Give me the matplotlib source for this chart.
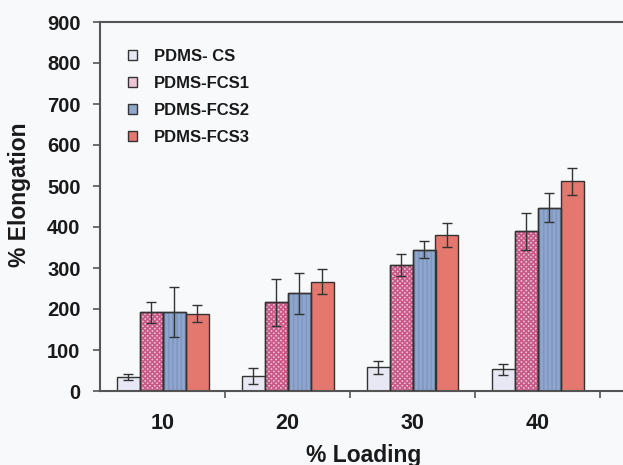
import matplotlib
matplotlib.use("Agg")
import matplotlib.pyplot as plt
import numpy as np
from matplotlib.patches import Patch

plt.rcParams['font.family'] = ['Liberation Sans', 'DejaVu Sans']
plt.rcParams['hatch.linewidth'] = 1.2

categories = ["10", "20", "30", "40"]
series = ["PDMS- CS", "PDMS-FCS1", "PDMS-FCS2", "PDMS-FCS3"]
cs_vals = [35, 37, 58, 53]
cs_err = [7, 19, 16, 14]
fcs1_vals = [192, 216, 307, 390]
fcs1_err = [25, 57, 26, 45]
fcs2_vals = [192, 238, 345, 447]
fcs2_err = [61, 49, 21, 35]
fcs3_vals = [189, 267, 380, 512]
fcs3_err = [20, 31, 29, 33]

values = [cs_vals, fcs1_vals, fcs2_vals, fcs3_vals]
errors = [cs_err, fcs1_err, fcs2_err, fcs3_err]
faces = ['#e8e8f4', '#f0c4d6', '#8fa6ce', '#e4776e']
hatches = [None, 'xxxxxxx', '||||', None]
hatch_cols = ['#333333', '#c85a88', '#7f97c2', '#333333']

W, H = 623, 465
fig = plt.figure(figsize=(W / 100, H / 100), dpi=100)
bg = '#f8f9fb'
fig.patch.set_facecolor(bg)
ax = fig.add_axes([100 / W, (H - 391) / H, 523 / W, (391 - 22) / H])
ax.set_facecolor(bg)

x = np.arange(len(categories))
w = 0.184
handles = []
for i, (vals, errs) in enumerate(zip(values, errors)):
    pos = x + (i - 1.5) * w
    bars = ax.bar(pos, vals, width=w, color=faces[i], edgecolor='#333333',
                  linewidth=1.0, zorder=2)
    if hatches[i]:
        for b in bars:
            b.set_hatch(hatches[i])
            b._hatch_color = matplotlib.colors.to_rgba(hatch_cols[i])
        ax.bar(pos, vals, width=w, color='none', edgecolor='#333333',
               linewidth=1.0, zorder=3)
    ax.errorbar(pos, vals, yerr=errs, fmt='none', ecolor='#333333',
                elinewidth=1.0, capsize=3.5, capthick=1.0, zorder=4)
    handles.append(Patch(facecolor=faces[i], edgecolor='#333333', linewidth=1.0,
                         label=series[i]))

ax.set_ylim(0, 900)
ax.set_xlim(-0.5, -0.5 + 523 / 125)
ax.set_yticks(np.arange(0, 901, 100))
ax.tick_params(axis='y', direction='out', length=5, width=1.2, color='#555555',
               labelsize=14.5, pad=9)
for lab in ax.get_yticklabels():
    lab.set_fontweight('bold')
    lab.set_color('#1a1a1a')

ax.set_xticks(np.arange(0.5, 4.0, 1.0))
ax.set_xticklabels([])
ax.tick_params(axis='x', which='major', direction='out', length=5, width=1.2,
               color='#555555')
ax.set_xticks(x, minor=True)
ax.set_xticklabels(categories, minor=True, fontsize=15.5, fontweight='bold',
                   color='#1a1a1a')
ax.tick_params(axis='x', which='minor', length=0, pad=16)

for s in ['left', 'top', 'bottom']:
    ax.spines[s].set_color('#555555')
    ax.spines[s].set_linewidth(1.5)
ax.spines['right'].set_visible(False)

fig.text(364 / W, 1 - 455 / H, '% Loading', ha='center', va='center',
         fontsize=16.5, fontweight='bold', color='#1a1a1a')
fig.text(20 / W, 1 - 195 / H, '% Elongation', ha='center', va='center',
         rotation=90, fontsize=16.5, fontweight='bold', color='#1a1a1a')

leg = ax.legend(handles=handles, loc='upper left',
                bbox_to_anchor=(113 / W, 1 - 34 / H), bbox_transform=fig.transFigure,
                frameon=False, handlelength=0.55, handleheight=0.55,
                handletextpad=1.0, labelspacing=0.72,
                prop={'size': 12, 'weight': 'bold'})
for t in leg.get_texts():
    t.set_color('#1a1a1a')

fig.savefig('out.png', dpi=100, facecolor=bg)
